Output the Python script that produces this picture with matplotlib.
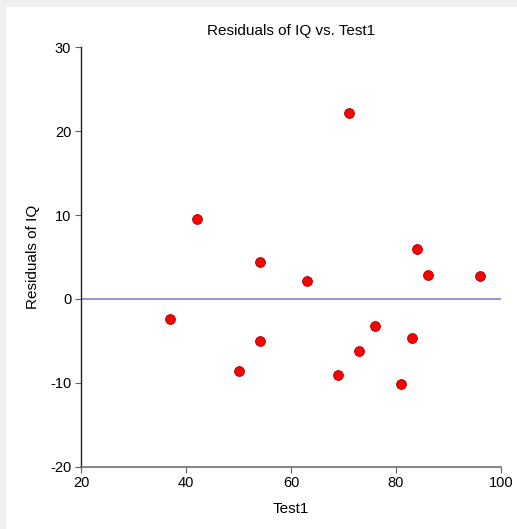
import matplotlib.pyplot as plt
from matplotlib.patches import Rectangle

# datos
test1 = [71, 42, 54, 63, 84, 86, 96, 37, 76, 83, 54, 73, 50, 69, 81]
residuals = [22.2, 9.5, 4.4, 2.1, 6.0, 2.8, 2.7, -2.4, -3.2, -4.6, -5.0, -6.2, -8.6, -9.1, -10.2]

plt.rcParams['font.family'] = ['Liberation Sans', 'DejaVu Sans']
plt.rcParams['axes.unicode_minus'] = False

fig = plt.figure(figsize=(5.17, 5.29), dpi=100)
fig.patch.set_facecolor('#f0f0f0')
# panel blanco detras de los ejes
fig.add_artist(Rectangle((6 / 517, 0), 1, 1 - 7 / 529, transform=fig.transFigure,
                         facecolor='white', edgecolor='none', zorder=-10))

ax = fig.add_axes([81 / 517, 62.3 / 529, 420 / 517, 419.4 / 529])
ax.set_facecolor('none')

ax.axhline(0, color='#8080c8', lw=1.2, zorder=1)
ax.scatter(test1, residuals, s=50, color='red', edgecolors='#a00000', linewidths=0.6, zorder=3)

ax.set_xlim(20, 100)
ax.set_ylim(-20, 30)
ax.set_xticks([20, 40, 60, 80, 100])
ax.set_yticks([-20, -10, 0, 10, 20, 30])

for s in ['top', 'right']:
    ax.spines[s].set_visible(False)
ax.spines['left'].set_color('#202020')
ax.spines['bottom'].set_color('#707070')
ax.spines['left'].set_linewidth(1.0)
ax.spines['bottom'].set_linewidth(1.2)
ax.tick_params(direction='out', length=4, width=0.8, color='#606060', labelsize=10.5, pad=3)

ax.set_title('Residuals of IQ vs. Test1', fontsize=11, pad=9)
ax.set_xlabel('Test1', fontsize=11, labelpad=8)
ax.set_ylabel('Residuals of IQ', fontsize=11, labelpad=7)

plt.savefig('out.png', dpi=100, facecolor=fig.get_facecolor())
